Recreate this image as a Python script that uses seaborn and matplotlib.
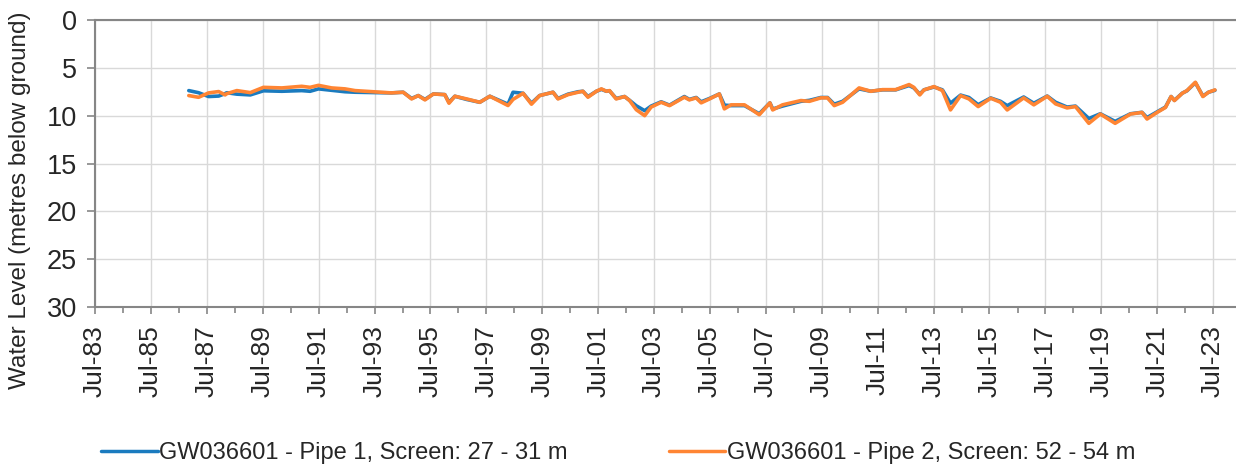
import numpy as np
import pandas as pd
import matplotlib
matplotlib.use("Agg")
import matplotlib.pyplot as plt
import matplotlib.dates as mdates
import seaborn as sns
from datetime import datetime

# ---- data (decimal years, water level in metres below ground) ----
sample_years = [
    1986.85, 1987.20, 1987.56, 1987.92, 1988.15, 1988.21, 1988.57, 1989.05, 1989.52, 1990.18,
    1990.89, 1991.19, 1991.49, 1991.96, 1992.44, 1992.80, 1994.10, 1994.52, 1994.82, 1995.06,
    1995.30, 1995.60, 1996.01, 1996.16, 1996.37, 1996.79, 1997.26, 1997.62, 1998.27, 1998.45,
    1998.81, 1999.11, 1999.40, 1999.88, 2000.06, 2000.42, 2000.78, 2000.95, 2001.13, 2001.43,
    2001.61, 2001.79, 2001.90, 2002.14, 2002.44, 2002.62, 2002.86, 2003.16, 2003.39, 2003.75,
    2004.05, 2004.58, 2004.76, 2005.00, 2005.18, 2005.48, 2005.83, 2006.01, 2006.25, 2006.73,
    2007.26, 2007.64, 2007.74, 2008.09, 2008.75, 2009.05, 2009.46, 2009.70, 2009.94, 2010.24,
    2010.83, 2011.25, 2011.67, 2012.14, 2012.62, 2012.79, 2013.00, 2013.15, 2013.51, 2013.81,
    2014.10, 2014.46, 2014.76, 2015.09, 2015.54, 2015.89, 2016.13, 2016.72, 2017.08, 2017.56,
    2017.86, 2018.27, 2018.57, 2019.05, 2019.46, 2019.99, 2020.54, 2020.95, 2021.13, 2021.49,
    2021.79, 2021.99, 2022.11, 2022.39, 2022.56, 2022.86, 2023.13, 2023.33, 2023.56,
]
pipe1_level = [
    7.38, 7.60, 8.00, 7.95, 7.70, 7.60, 7.75, 7.83, 7.40, 7.45,
    7.38, 7.45, 7.20, 7.35, 7.50, 7.55, 7.62, 7.55, 8.20, 7.90,
    8.30, 7.73, 7.80, 8.60, 7.97, 8.30, 8.60, 7.97, 8.80, 7.55,
    7.66, 8.70, 7.90, 7.55, 8.20, 7.75, 7.50, 7.45, 8.00, 7.45,
    7.25, 7.45, 7.40, 8.20, 8.00, 8.40, 8.97, 9.48, 9.00, 8.55,
    8.90, 8.00, 8.30, 8.10, 8.55, 8.20, 7.73, 8.90, 8.95, 8.95,
    9.80, 8.66, 9.30, 9.00, 8.50, 8.40, 8.10, 8.10, 8.80, 8.50,
    7.20, 7.45, 7.30, 7.30, 6.85, 7.10, 7.75, 7.30, 7.00, 7.30,
    8.70, 7.85, 8.10, 8.85, 8.15, 8.50, 8.95, 8.05, 8.70, 7.95,
    8.60, 9.10, 9.00, 10.30, 9.80, 10.60, 9.80, 9.65, 10.20, 9.60,
    9.10, 8.00, 8.40, 7.65, 7.40, 6.55, 7.95, 7.55, 7.35,
]
pipe2_level = [
    7.90, 8.08, 7.62, 7.48, 7.83, 7.70, 7.38, 7.59, 7.04, 7.10,
    6.93, 7.04, 6.83, 7.10, 7.20, 7.38, 7.62, 7.55, 8.25, 7.90,
    8.35, 7.73, 7.80, 8.70, 7.97, 8.25, 8.60, 7.97, 8.94, 8.30,
    7.66, 8.80, 7.90, 7.55, 8.25, 7.80, 7.55, 7.45, 8.07, 7.45,
    7.20, 7.45, 7.38, 8.25, 8.00, 8.42, 9.38, 10.00, 9.10, 8.60,
    8.95, 8.07, 8.35, 8.14, 8.66, 8.25, 7.73, 9.29, 8.87, 8.87,
    9.90, 8.66, 9.40, 8.87, 8.42, 8.50, 8.14, 8.14, 8.95, 8.60,
    7.10, 7.45, 7.28, 7.28, 6.75, 7.04, 7.83, 7.31, 6.96, 7.38,
    9.40, 7.90, 8.25, 9.05, 8.18, 8.60, 9.40, 8.14, 8.87, 7.97,
    8.77, 9.19, 9.05, 10.80, 9.83, 10.80, 9.83, 9.66, 10.35, 9.66,
    9.14, 8.00, 8.42, 7.66, 7.38, 6.51, 8.00, 7.55, 7.31,
]
series_names = ["GW036601 - Pipe 1, Screen: 27 - 31 m",
                "GW036601 - Pipe 2, Screen: 52 - 54 m"]
series_colors = ["#1A7BBF", "#FF8533"]
y_ticks = [0, 5, 10, 15, 20, 25, 30]
y_label = "Water Level (metres below ground)"


def to_date(y):
    yr = int(np.floor(y))
    return pd.Timestamp(year=yr, month=1, day=1) + pd.Timedelta(days=(y - yr) * 365.25)


dates = [to_date(y) for y in sample_years]
df = pd.concat([
    pd.DataFrame({"date": dates, "level": pipe1_level, "series": series_names[0]}),
    pd.DataFrame({"date": dates, "level": pipe2_level, "series": series_names[1]}),
])

sns.set_style("white")
plt.rcParams["font.family"] = ["Liberation Sans", "DejaVu Sans"]

fig = plt.figure(figsize=(12.36, 4.69), dpi=100)
ax = fig.add_axes([95 / 1236, 1 - 307 / 469, 1 - 95 / 1236, (307 - 20) / 469])

sns.lineplot(data=df, x="date", y="level", hue="series", hue_order=series_names,
             palette=series_colors, linewidth=2.6, ax=ax, legend=False,
             estimator=None, sort=False, solid_joinstyle="round",
             solid_capstyle="round")

ax.set_ylim(30, 0)
ax.set_yticks(y_ticks)
ax.set_xlim(datetime(1983, 7, 1), datetime(2024, 4, 25))
major = [mdates.date2num(datetime(y, 7, 1)) for y in range(1983, 2024, 2)]
minor = [mdates.date2num(datetime(y, 7, 1)) for y in range(1984, 2024, 2)]
ax.set_xticks(major)
ax.set_xticks(minor, minor=True)
ax.xaxis.set_major_formatter(mdates.DateFormatter("%b-%y"))
plt.setp(ax.get_xticklabels(), rotation=90)

ax.grid(True, which="major", color="#D9D9D9", linewidth=1.0)
ax.set_axisbelow(True)
for s in ["left", "bottom", "top"]:
    ax.spines[s].set_color("#868686")
    ax.spines[s].set_linewidth(1.5)
ax.spines["right"].set_visible(False)

ax.tick_params(axis="y", which="major", direction="out", length=6, width=1.2,
               color="#868686", labelsize=19.5, pad=7, left=True)
ax.tick_params(axis="x", which="major", direction="out", length=5, width=1.2,
               color="#868686", labelsize=19, pad=8, bottom=True)
ax.tick_params(axis="x", which="minor", direction="out", length=4, width=1.2,
               color="#868686", bottom=True)
ax.set_xlabel("")
ax.set_ylabel("")
fig.text(20 / 1236, 1 - 200 / 469, y_label, rotation=90, va="center", ha="center",
         fontsize=17.5)

handles = [plt.Line2D([], [], color=c, linewidth=2.5) for c in series_colors]
fig.legend(handles, series_names, loc="center", bbox_to_anchor=(0.5, 1 - 453 / 469),
           ncol=2, frameon=False, fontsize=17, handlelength=2.4, handletextpad=0.05,
           columnspacing=4.3)

fig.savefig("out.png", dpi=100)
